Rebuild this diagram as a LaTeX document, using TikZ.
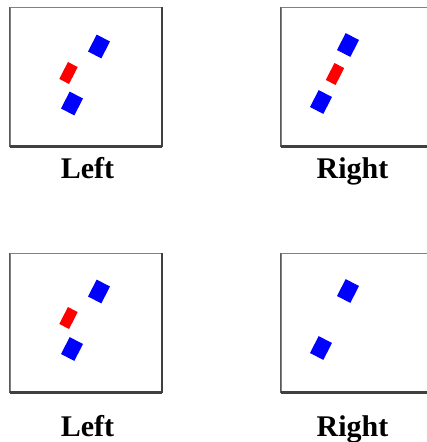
\documentclass[tikz,border=0pt]{standalone}
\usepackage{fontspec}
\setmainfont{Liberation Serif}
\usepackage{tikz}
\usetikzlibrary{positioning}

\tikzset{
    panel/.style={draw=black!50,line width=1pt,fill=white,minimum width=151pt,minimum height=139pt,inner sep=0pt},
    bluechip/.style={fill=blue,rotate=-27,minimum width=15pt,minimum height=19pt,inner sep=0pt},
    redchip/.style={fill=red,rotate=-27,minimum width=11pt,minimum height=19pt,inner sep=0pt},
    caption/.style={anchor=base,inner sep=0pt,font=\fontsize{30}{30}\selectfont\bfseries}
}

\begin{document}
\begin{tikzpicture}[x=1pt,y=-1pt]
        \clip (0,0) rectangle (427,442);
        \fill[white] (0,0) rectangle (427,442);

        \node[panel] (boxtl) at (85.5,76.5) {};
        \node[panel] (boxtr) at (356.5,76.5) {};
        \node[panel] (boxbl) at (85.5,322.5) {};
        \node[panel] (boxbr) at (356.5,322.5) {};

        \foreach \b in {boxtl,boxtr,boxbl,boxbr} {
            \draw[black!75,line width=3pt] (\b.south west) -- (\b.south east);
            \draw[black!75,line width=2pt] (\b.south east) -- (\b.north east);
            \draw[black!65,line width=1.5pt] (\b.south west) -- (\b.north west);
        }

        \node[bluechip] (tlup) at (99,46.5) {};
        \node[redchip] (tlmid) at (68.5,73) {};
        \node[bluechip] (tldown) at (72,103.5) {};

        \node[bluechip] (trup) at (348,45) {};
        \node[redchip] (trmid) at (335,74) {};
        \node[bluechip] (trdown) at (321,102) {};

        \node[bluechip] (blup) at (99,291.5) {};
        \node[redchip] (blmid) at (68.5,318) {};
        \node[bluechip] (bldown) at (72,349) {};

        \node[bluechip] (brup) at (348,291) {};
        \node[bluechip] (brdown) at (321,348) {};

        \node[caption] (lbltl) at (87.5,178) {Left};
        \node[caption] (lbltr) at (352.5,178) {Right};
        \node[caption] (lblbl) at (87.5,436) {Left};
        \node[caption] (lblbr) at (352.5,436) {Right};
    \end{tikzpicture}
\end{document}
